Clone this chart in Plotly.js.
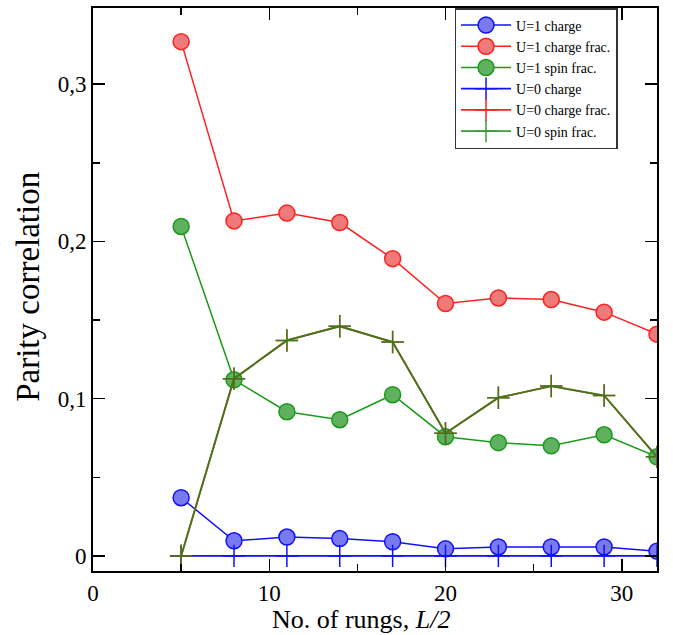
<!DOCTYPE html>
<html><head><meta charset="utf-8">
<script src="https://cdn.plot.ly/plotly-3.0.1.min.js"></script>
<style>body{margin:0;background:#fff}#c{width:673px;height:635px}</style>
</head><body><div id="c"></div>
<script>
var rungs = [5, 8, 11, 14, 17, 20, 23, 26, 29, 32];
var u1Charge     = [0.037, 0.0096, 0.012, 0.011, 0.009, 0.0045, 0.0057, 0.0057, 0.0057, 0.003];
var u1ChargeFrac = [0.327, 0.213, 0.218, 0.212, 0.189, 0.1605, 0.164, 0.163, 0.155, 0.141];
var u1SpinFrac   = [0.2095, 0.112, 0.0917, 0.0866, 0.1025, 0.0758, 0.072, 0.070, 0.077, 0.063];
var u0Charge     = [0, 0, 0, 0, 0, 0, 0, 0, 0, 0];
var u0ChargeFrac = [0, 0.1127, 0.137, 0.146, 0.136, 0.078, 0.1006, 0.108, 0.102, 0.063];
var u0SpinFrac   = [0, 0.1127, 0.137, 0.146, 0.136, 0.078, 0.1006, 0.108, 0.102, 0.063];
var yTickVals = [0, 0.1, 0.2, 0.3];
var yTickText = ['0', '0,1', '0,2', '0,3'];
var xTickVals = [0, 10, 20, 30];
var xTickText = ['0', '10', '20', '30'];
var xTitle = 'No. of rungs, <i>L/2</i>';
var yTitle = 'Parity correlation';

function circ(name, y, line, fill) {
  return {x: rungs, y: y, name: name, mode: 'lines+markers', type: 'scatter',
    line: {color: line, width: 1.5},
    marker: {symbol: 'circle', size: 16, color: fill, line: {color: line, width: 1.5}}};
}
function plus(name, y, col, op) {
  return {x: rungs, y: y, name: name, mode: 'lines+markers', type: 'scatter', opacity: op,
    line: {color: col, width: 1.8},
    marker: {symbol: 'cross-thin', size: 16, color: col, line: {color: col, width: 1.5}}};
}
var data = [
  circ('U=1 charge', u1Charge, '#1010ff', '#7a7af0'),
  circ('U=1 charge frac.', u1ChargeFrac, '#ff2020', '#f07a7a'),
  circ('U=1 spin frac.', u1SpinFrac, '#1a9a1a', '#5fb05f'),
  plus('U=0 charge', u0Charge, '#1010ff', 1),
  plus('U=0 charge frac.', u0ChargeFrac, '#ff2020', 1),
  plus('U=0 spin frac.', u0SpinFrac, '#1a8a1a', 0.85)
];
var serif = 'Liberation Serif, serif';
var axFont = {family: serif, size: 23, color: '#000'};
var layout = {
  width: 673, height: 635,
  margin: {l: 93, r: 16, t: 8, b: 64},
  paper_bgcolor: '#fff', plot_bgcolor: '#fff',
  showlegend: true,
  legend: {x: 0.641, y: 1, xanchor: 'left', yanchor: 'top', bgcolor: '#fff',
    bordercolor: '#333', borderwidth: 1.5,
    font: {family: serif, size: 14, color: '#000'},
    tracegroupgap: 0, itemwidth: 50},
  xaxis: {range: [0, 32], tickvals: xTickVals, ticktext: xTickText,
    ticks: 'inside', ticklen: 12, tickwidth: 1.5, tickcolor: '#000',
    minor: {dtick: 5, tick0: 0, ticks: 'inside', ticklen: 7, tickwidth: 1.5, tickcolor: '#000', showgrid: false},
    showline: true, linecolor: '#000', linewidth: 2, mirror: 'ticks',
    showgrid: false, zeroline: false, tickfont: axFont, automargin: false},
  yaxis: {range: [-0.0096, 0.3484], tickvals: yTickVals, ticktext: yTickText,
    ticks: 'inside', ticklen: 12, tickwidth: 1.5, tickcolor: '#000',
    minor: {dtick: 0.05, tick0: 0, ticks: 'inside', ticklen: 7, tickwidth: 1.5, tickcolor: '#000', showgrid: false},
    showline: true, linecolor: '#000', linewidth: 2, mirror: 'ticks',
    showgrid: false, zeroline: false, tickfont: axFont, automargin: false},
  annotations: [
    {text: xTitle, xref: 'paper', yref: 'paper', x: 0.475, y: -0.0865, xanchor: 'center', yanchor: 'middle',
     showarrow: false, font: {family: serif, size: 26, color: '#000'}},
    {text: yTitle, xref: 'paper', yref: 'paper', x: -0.115, y: 0.505, xanchor: 'center', yanchor: 'middle',
     textangle: -90, showarrow: false, font: {family: serif, size: 33, color: '#000'}}
  ]
};
Plotly.newPlot('c', data, layout, {displayModeBar: false, staticPlot: true});
</script></body></html>
